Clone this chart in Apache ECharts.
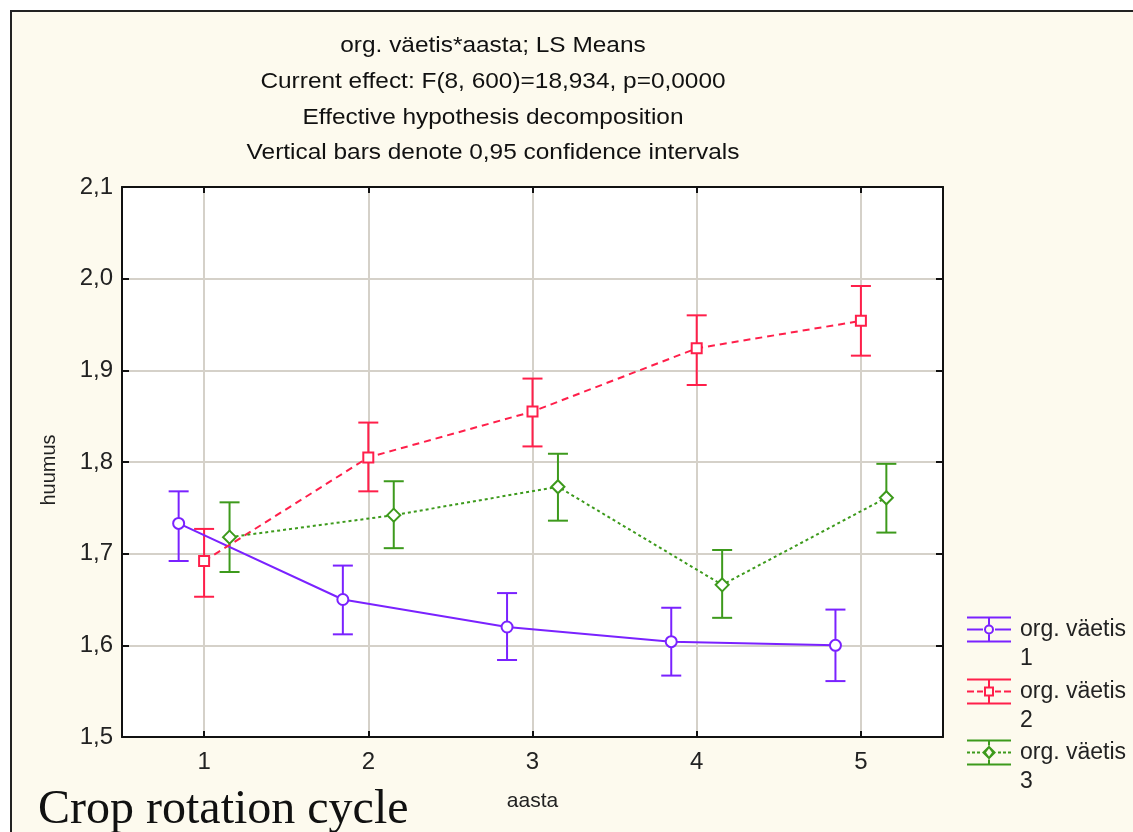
<!DOCTYPE html>
<html><head><meta charset="utf-8">
<script src="https://cdn.jsdelivr.net/npm/echarts@6/dist/echarts.min.js"></script>
<style>html,body{margin:0;padding:0;background:#fff}#c{width:1133px;height:832px}</style>
</head><body><div id="c"></div>
<script>
// ---- data ----
const years = [1, 2, 3, 4, 5];
const titleLines = [
  'org. väetis*aasta; LS Means',
  'Current effect: F(8, 600)=18,934, p=0,0000',
  'Effective hypothesis decomposition',
  'Vertical bars denote 0,95 confidence intervals'
];
const seriesNames = ['org. väetis 1', 'org. väetis 2', 'org. väetis 3'];
const mean1 = [1.733, 1.650, 1.620, 1.604, 1.600];
const low1  = [1.692, 1.612, 1.584, 1.567, 1.561];
const high1 = [1.768, 1.687, 1.657, 1.641, 1.639];
const mean2 = [1.692, 1.805, 1.855, 1.924, 1.954];
const low2  = [1.653, 1.768, 1.817, 1.884, 1.916];
const high2 = [1.727, 1.843, 1.891, 1.960, 1.992];
const mean3 = [1.718, 1.742, 1.773, 1.666, 1.761];
const low3  = [1.680, 1.706, 1.736, 1.630, 1.723];
const high3 = [1.756, 1.779, 1.809, 1.704, 1.798];
const yTicks = [1.5, 1.6, 1.7, 1.8, 1.9, 2.0, 2.1];

// ---- style ----
const SANS = '"Liberation Sans", Arial, sans-serif';
const colors = ['#7a22ff', '#ff1f4a', '#3d9a1c'];
const offsets = [-0.155, 0, 0.155];
const symbols = ['emptyCircle', 'emptyRect', 'emptyDiamond'];
const symSizes = [11, 10, 13];
const lineTypes = ['solid', [7, 5], [3, 3]];
const means = [mean1, mean2, mean3], lows = [low1, low2, low3], highs = [high1, high2, high3];

const caps = 'M0,0L44,0L44,2L0,2Z M0,24L44,24L44,26L0,26Z ';
const icons = [
  'path://' + caps + 'M21,0L23,0L23,8L21,8Z M21,18L23,18L23,26L21,26Z M0,12L16,12L16,14L0,14Z M28,12L44,12L44,14L28,14Z M17,13A5,5 0 1,1 27,13A5,5 0 1,1 17,13Z M19,13A3,3 0 1,0 25,13A3,3 0 1,0 19,13Z',
  'path://' + caps + 'M21,0L23,0L23,8L21,8Z M21,18L23,18L23,26L21,26Z M0,12L7,12L7,14L0,14Z M10,12L16,12L16,14L10,14Z M28,12L34,12L34,14L28,14Z M37,12L44,12L44,14L37,14Z M17,8L27,8L27,18L17,18Z M19,10L19,16L25,16L25,10Z',
  'path://' + caps + 'M21,0L23,0L23,6L21,6Z M21,20L23,20L23,26L21,26Z M0,12L3,12L3,14L0,14Z M5,12L8,12L8,14L5,14Z M10,12L13,12L13,14L10,14Z M31,12L34,12L34,14L31,14Z M36,12L39,12L39,14L36,14Z M41,12L44,12L44,14L41,14Z M22,6L29,13L22,20L15,13Z M22,9L19,13L22,17L25,13Z'
];
const legendTops = [586, 648, 709];

const series = [];
for (let i = 0; i < 3; i++) {
  const pts = years.map((y, k) => [y + offsets[i], means[i][k]]);
  const ci = years.map((y, k) => [y + offsets[i], lows[i][k], highs[i][k]]);
  const col = colors[i];
  series.push({
    type: 'custom', name: seriesNames[i] + ' CI', xAxisIndex: 0, yAxisIndex: 0, z: 3,
    data: ci, silent: true,
    renderItem: function (params, api) {
      const x = api.value(0);
      const top = api.coord([x, api.value(2)]);
      const bot = api.coord([x, api.value(1)]);
      const hw = 10;
      const st = { stroke: col, lineWidth: 2 };
      return { type: 'group', children: [
        { type: 'line', shape: { x1: top[0], y1: top[1], x2: bot[0], y2: bot[1] }, style: st },
        { type: 'line', shape: { x1: top[0] - hw, y1: top[1], x2: top[0] + hw, y2: top[1] }, style: st },
        { type: 'line', shape: { x1: bot[0] - hw, y1: bot[1], x2: bot[0] + hw, y2: bot[1] }, style: st }
      ]};
    }
  });
  series.push({
    type: 'line', name: seriesNames[i], xAxisIndex: 0, yAxisIndex: 0, z: 4,
    data: pts, symbol: symbols[i], symbolSize: symSizes[i], showAllSymbol: true,
    lineStyle: { color: col, width: 2, type: lineTypes[i] },
    itemStyle: { color: col, borderColor: col, borderWidth: 2 },
    animation: false
  });
}

const legends = seriesNames.map((n, i) => ({
  left: 967, top: legendTops[i], padding: 0, orient: 'vertical',
  data: [{ name: n, icon: icons[i] }],
  itemWidth: 44, itemHeight: 26, selectedMode: false,
  itemStyle: { borderWidth: 0 },
  formatter: (name) => '\n' + name.replace(/ (\d)$/, '\n$1'),
  textStyle: { fontFamily: SANS, fontSize: 23, color: '#222', lineHeight: 29, padding: [0, 0, 0, 4] }
}));

const axisCommon = {
  type: 'value', min: 0.5, max: 5.5,
  axisLine: { show: true, onZero: false, lineStyle: { color: '#111', width: 2 } },
  axisTick: { show: true, inside: true, length: 6, customValues: years, lineStyle: { color: '#111', width: 2 } }
};

const option = {
  backgroundColor: '#ffffff',
  animation: false,
  grid: { left: 122, top: 187, width: 821, height: 550, show: true, backgroundColor: '#ffffff', borderWidth: 0, containLabel: false },
  graphic: [
    { type: 'rect', z: -10, shape: { x: 11, y: 11, width: 1140, height: 840 }, style: { fill: '#fdfaee', stroke: '#222', lineWidth: 2 } },
    { type: 'text', z: 5, x: 493, y: 28, scaleX: 1.11, style: { text: titleLines.join('\n'), align: 'center', verticalAlign: 'top', font: '22px ' + SANS, lineHeight: 35.8, fill: '#111' } },
    { type: 'text', z: 5, x: 38, y: 834, style: { text: 'Crop rotation cycle', align: 'left', verticalAlign: 'bottom', font: '48px "Liberation Serif", "Times New Roman", serif', fill: '#111' } }
  ],
  legend: legends,
  xAxis: [
    Object.assign({}, axisCommon, {
      position: 'bottom',
      name: 'aasta', nameLocation: 'middle', nameGap: 54,
      nameTextStyle: { fontFamily: SANS, fontSize: 21, color: '#222' },
      axisLabel: { show: true, customValues: years, margin: 13, fontFamily: SANS, fontSize: 24, color: '#222' },
      splitLine: { show: true, lineStyle: { color: '#d5d1c9', width: 2 } }
    }),
    Object.assign({}, axisCommon, {
      position: 'top',
      axisLabel: { show: false },
      splitLine: { show: false }
    })
  ],
  yAxis: [
    {
      type: 'value', min: 1.5, max: 2.1, interval: 0.1, position: 'left',
      name: 'huumus', nameLocation: 'middle', nameGap: 63, nameRotate: 90,
      nameTextStyle: { fontFamily: SANS, fontSize: 20, color: '#222', padding: [0, 16, 0, 0] },
      axisLine: { show: true, onZero: false, lineStyle: { color: '#111', width: 2 } },
      axisTick: { show: true, inside: true, length: 7, lineStyle: { color: '#111', width: 2 } },
      axisLabel: { show: true, margin: 9, fontFamily: SANS, fontSize: 24, color: '#222',
        formatter: (v) => v.toFixed(1).replace('.', ',') },
      splitLine: { show: true, lineStyle: { color: '#d5d1c9', width: 2 } }
    },
    {
      type: 'value', min: 1.5, max: 2.1, interval: 0.1, position: 'right',
      axisLine: { show: true, onZero: false, lineStyle: { color: '#111', width: 2 } },
      axisTick: { show: true, inside: true, length: 7, lineStyle: { color: '#111', width: 2 } },
      axisLabel: { show: false },
      splitLine: { show: false }
    }
  ],
  series: series
};

const chart = echarts.init(document.getElementById('c'), null, { renderer: 'canvas' });
chart.setOption(option);
</script>
</body></html>
